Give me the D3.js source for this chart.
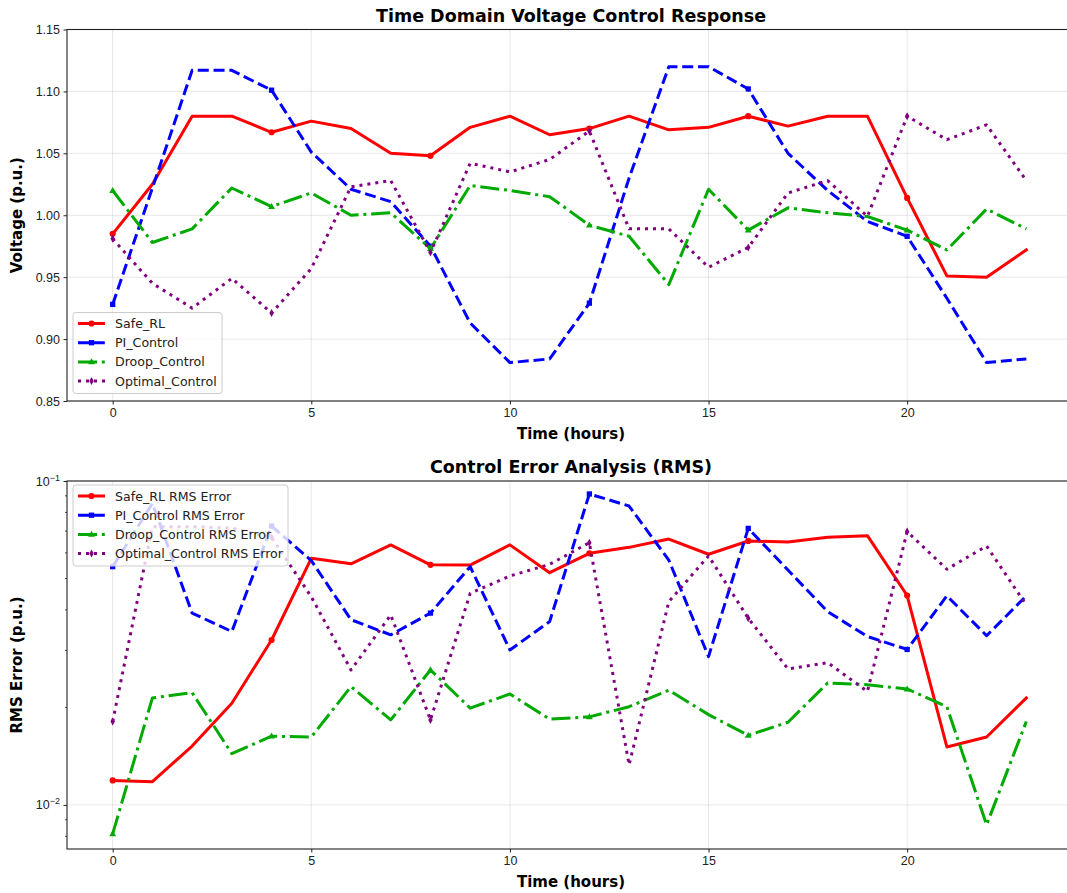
<!DOCTYPE html>
<html>
<head>
<meta charset="utf-8">
<script src="https://cdn.jsdelivr.net/npm/d3@7"></script>
<style>
  body { margin: 0; background: #fff; }
  svg { font-family: "DejaVu Sans", sans-serif; }
</style>
</head>
<body>
<div id="chart"></div>
<script>
// hours on the x axis
const hours = [0,1,2,3,4,5,6,7,8,9,10,11,12,13,14,15,16,17,18,19,20,21,22,23];

// voltage (p.u.)
const safeVoltage = [0.985,1.025,1.080,1.080,1.067,1.076,1.070,1.050,1.048,1.071,1.080,1.065,1.070,1.080,1.069,1.071,1.080,1.072,1.080,1.080,1.014,0.951,0.950,0.972];
const piVoltage = [0.928,1.022,1.117,1.117,1.101,1.051,1.021,1.011,0.975,0.913,0.881,0.884,0.929,1.030,1.120,1.120,1.102,1.050,1.020,0.995,0.983,0.933,0.881,0.884];
const droopVoltage = [1.020,0.978,0.989,1.022,1.007,1.018,1.000,1.002,0.973,1.024,1.020,1.015,0.992,0.983,0.944,1.021,0.988,1.006,1.002,0.999,0.988,0.972,1.005,0.989];
const optimalVoltage = [0.981,0.945,0.925,0.949,0.921,0.957,1.023,1.028,0.970,1.042,1.035,1.045,1.068,0.989,0.989,0.958,0.974,1.018,1.028,0.999,1.080,1.061,1.073,1.028];

// RMS error (p.u.)
const safeError = [0.0119,0.0118,0.0152,0.0206,0.0323,0.0577,0.0555,0.0635,0.0551,0.0550,0.0635,0.0521,0.0598,0.0624,0.0662,0.0594,0.0653,0.0648,0.0670,0.0678,0.0443,0.0151,0.0162,0.0214];
const piError = [0.0544,0.0853,0.0391,0.0343,0.0726,0.0568,0.0373,0.0335,0.0391,0.0544,0.0301,0.0368,0.0912,0.0837,0.0570,0.0287,0.0714,0.0531,0.0395,0.0331,0.0302,0.0442,0.0333,0.0442];
const droopError = [0.00814,0.0214,0.0222,0.0144,0.0163,0.0162,0.0232,0.0183,0.0261,0.0199,0.0220,0.0184,0.0187,0.0201,0.0226,0.0190,0.0164,0.0180,0.0238,0.0235,0.0228,0.0201,0.00868,0.0181];
const optimalError = [0.0181,0.0723,0.0723,0.0715,0.0670,0.0439,0.0261,0.0386,0.0183,0.0450,0.0509,0.0553,0.0645,0.0133,0.0424,0.0587,0.0377,0.0263,0.0275,0.0224,0.0698,0.0534,0.0630,0.0414];

const seriesNames = ["Safe_RL", "PI_Control", "Droop_Control", "Optimal_Control"];
const xTicks = [0, 5, 10, 15, 20];
const voltageTicks = [0.85, 0.90, 0.95, 1.00, 1.05, 1.10, 1.15];

const styles = [
  { color: "#ff0000", dash: null, marker: "circle" },
  { color: "#0000ff", dash: "11,4.8", marker: "square" },
  { color: "#00aa00", dash: "19,4.8,3,4.8", marker: "triangle" },
  { color: "#800080", dash: "3,5", marker: "diamond" },
];

const W = 1067, H = 893;
const svg = d3.select("#chart").append("svg").attr("width", W).attr("height", H);

function markerPath(type) {
  if (type === "circle") return d3.symbol(d3.symbolCircle, 30)();
  if (type === "square") return d3.symbol(d3.symbolSquare, 28)();
  if (type === "triangle") return "M0,-3.6L3.4,2.4L-3.4,2.4Z";
  return "M0,-4L2.2,0L0,4L-2.2,0Z";
}

function drawPanel(cfg) {
  const x = d3.scaleLinear().domain([-1.15, 24.15]).range([cfg.left, cfg.right]);
  const y = cfg.log
    ? d3.scaleLog().domain(cfg.yDomain).range([cfg.bottom, cfg.top])
    : d3.scaleLinear().domain(cfg.yDomain).range([cfg.bottom, cfg.top]);

  const g = svg.append("g");

  // grid
  g.selectAll(".gx").data(xTicks).join("line")
    .attr("x1", d => x(d)).attr("x2", d => x(d))
    .attr("y1", cfg.top).attr("y2", cfg.bottom)
    .attr("stroke", "#b0b0b0").attr("stroke-opacity", 0.3).attr("stroke-width", 1);
  g.selectAll(".gy").data(cfg.gridY).join("line")
    .attr("x1", cfg.left).attr("x2", cfg.right)
    .attr("y1", d => y(d)).attr("y2", d => y(d))
    .attr("stroke", "#b0b0b0").attr("stroke-opacity", 0.3).attr("stroke-width", 1);

  // lines
  const line = d3.line().x((d, i) => x(hours[i])).y(d => y(d));
  cfg.series.forEach((vals, si) => {
    const st = styles[si];
    g.append("path")
      .datum(vals)
      .attr("d", line)
      .attr("fill", "none")
      .attr("stroke", st.color)
      .attr("stroke-width", 3)
      .attr("stroke-dasharray", st.dash)
      .attr("stroke-linejoin", "round")
      .attr("stroke-linecap", st.dash ? "butt" : "square");
    g.selectAll(null).data(vals.filter((d, i) => i % 4 === 0)).join("path")
      .attr("d", markerPath(st.marker))
      .attr("transform", (d, i) => `translate(${x(hours[i * 4])},${y(d)})`)
      .attr("fill", st.color);
  });

  // axes
  const xAxis = d3.axisBottom(x).tickValues(xTicks).tickSize(3.5).tickPadding(3.5);
  g.append("g").attr("transform", `translate(0,${cfg.bottom})`).call(xAxis)
    .call(a => a.select(".domain").remove());
  const yAxis = d3.axisLeft(y).tickValues(cfg.yTicks).tickSize(3.5).tickPadding(3.5)
    .tickFormat(cfg.log ? () => "" : d3.format(".2f"));
  const ya = g.append("g").attr("transform", `translate(${cfg.left},0)`).call(yAxis);
  ya.select(".domain").remove();
  if (cfg.log) {
    ya.selectAll(".tick").each(function (d) {
      const t = d3.select(this).select("text").text("10");
      t.append("tspan").attr("dy", "-0.55em").style("font-size", "9px")
        .text("\u2212" + Math.round(-Math.log10(d)));
    });
    g.selectAll(".minor").data(cfg.minorTicks).join("line")
      .attr("x1", cfg.left - 2).attr("x2", cfg.left)
      .attr("y1", d => y(d)).attr("y2", d => y(d))
      .attr("stroke", "#222").attr("stroke-width", 0.8);
  }
  g.selectAll(".tick text").attr("fill", "#222").style("font-size", "12.5px");
  g.selectAll(".tick line").attr("stroke", "#222");

  // frame
  g.append("rect")
    .attr("x", cfg.left).attr("y", cfg.top)
    .attr("width", cfg.right - cfg.left).attr("height", cfg.bottom - cfg.top)
    .attr("fill", "none").attr("stroke", "#222").attr("stroke-width", 1.1);

  // labels
  g.append("text").attr("x", 571).attr("y", cfg.top - 8)
    .attr("text-anchor", "middle").attr("font-weight", "bold").style("font-size", "17.5px")
    .text(cfg.title);
  g.append("text").attr("x", 571).attr("y", cfg.bottom + 38)
    .attr("text-anchor", "middle").attr("font-weight", "bold").style("font-size", "15px")
    .text("Time (hours)");
  g.append("text")
    .attr("transform", `translate(22,${(cfg.top + cfg.bottom) / 2}) rotate(-90)`)
    .attr("text-anchor", "middle").attr("font-weight", "bold").style("font-size", "15px")
    .text(cfg.yLabel);

  // legend
  const lg = g.append("g").attr("transform", `translate(${cfg.legend.x},${cfg.legend.y})`);
  lg.append("rect").attr("width", cfg.legend.w).attr("height", 81).attr("rx", 3)
    .attr("fill", "#fff").attr("fill-opacity", 0.8).attr("stroke", "#ccc");
  seriesNames.forEach((name, i) => {
    const st = styles[i];
    const ry = 11 + i * 19.2;
    lg.append("line").attr("x1", 5).attr("x2", 32).attr("y1", ry).attr("y2", ry)
      .attr("stroke", st.color).attr("stroke-width", 3).attr("stroke-dasharray", st.dash);
    lg.append("path").attr("d", markerPath(st.marker))
      .attr("transform", `translate(18.5,${ry})`).attr("fill", st.color);
    lg.append("text").attr("x", 42).attr("y", ry + 4.5).style("font-size", "12.6px")
      .attr("fill", "#222").text(name + cfg.legend.suffix);
  });
}

drawPanel({
  left: 67, right: 1072, top: 29.5, bottom: 401,
  yDomain: [0.85, 1.15], yTicks: voltageTicks, gridY: voltageTicks,
  series: [safeVoltage, piVoltage, droopVoltage, optimalVoltage],
  title: "Time Domain Voltage Control Response",
  yLabel: "Voltage (p.u.)",
  legend: { x: 73, y: 312.5, w: 149, suffix: "" },
});

drawPanel({
  left: 67, right: 1072, top: 481, bottom: 849, log: true,
  yDomain: [0.00731, 0.1], yTicks: [0.01, 0.1], gridY: [0.01, 0.1],
  minorTicks: [0.008, 0.009, 0.02, 0.03, 0.04, 0.05, 0.06, 0.07, 0.08, 0.09],
  series: [safeError, piError, droopError, optimalError],
  title: "Control Error Analysis (RMS)",
  yLabel: "RMS Error (p.u.)",
  legend: { x: 73, y: 485, w: 215, suffix: " RMS Error" },
});
</script>
</body>
</html>
